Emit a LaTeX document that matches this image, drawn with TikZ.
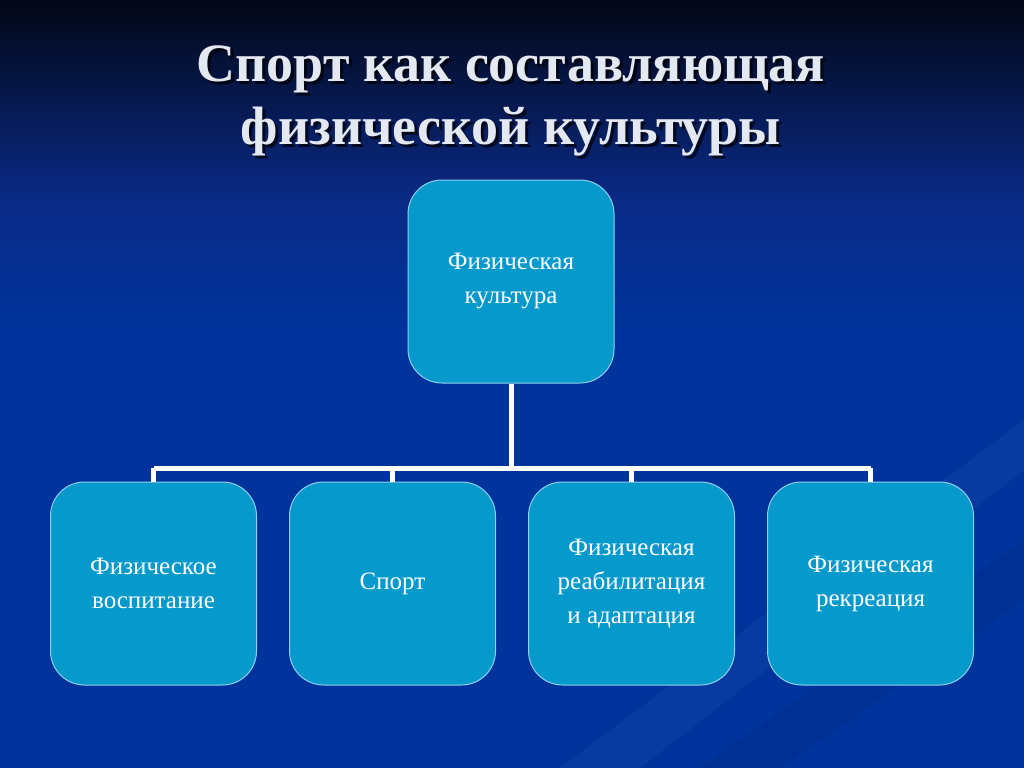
\documentclass[tikz,border=0pt]{standalone}
\usepackage{fontspec}
\setmainfont{Liberation Serif}
\usetikzlibrary{positioning}
\definecolor{bgtop}{HTML}{020716}
\definecolor{bgmid}{HTML}{0A2A86}
\definecolor{bgblue}{HTML}{00339C}
\definecolor{boxfill}{HTML}{0699CC}
\definecolor{boxline}{HTML}{8FD0F0}
\definecolor{titlecol}{HTML}{E4E8F0}
\tikzset{
  x=1pt, y=-1pt,
  box/.style={draw=boxline, line width=1pt, fill=boxfill, rounded corners=34pt,
    minimum width=206pt, minimum height=203pt, align=center, text=white,
    font=\fontsize{25}{34}\selectfont, inner sep=0pt},
  conn/.style={draw=white, line width=5pt},
  ttl/.style={font=\bfseries\fontsize{54}{63}\selectfont, align=center}
}
\begin{document}
\begin{tikzpicture}
\useasboundingbox (0,0) rectangle (1024,768);
% background
\fill[bgblue] (0,0) rectangle (1024,768);
\shade[top color=bgtop, bottom color=bgmid] (0,0) rectangle (1024,200);
\shade[top color=bgmid, bottom color=bgblue] (0,200) rectangle (1024,330);
% faint diagonal streaks
\fill[white, opacity=0.035] (560,768) -- (1024,420) -- (1024,470) -- (640,768) -- cycle;
\fill[black, opacity=0.05] (700,768) -- (1024,540) -- (1024,600) -- (780,768) -- cycle;
% title
\node[ttl, text=black, opacity=0.7] at (514,104) {Спорт как составляющая\\физической культуры};
\node[ttl, text=titlecol] (title) at (511,101) {Спорт как составляющая\\физической культуры};
% boxes
\node[box] (root) at (511,281.5) {Физическая\\культура};
\node[box] (c1) at (153.5,583.5) {Физическое\\воспитание};
\node[box] (c2) at (392.5,583.5) {Спорт};
\node[box] (c3) at (631.5,583.5) {Физическая\\реабилитация\\и адаптация};
\node[box] (c4) at (870.5,583.5) {Физическая\\рекреация};
% connectors
\coordinate (bus) at (0,468);
\draw[conn] (root.south) -- (root.south |- bus);
\draw[conn] (c1.north |- bus) -- (c4.north |- bus);
\draw[conn] (c1.north |- bus) -- (c1.north);
\draw[conn] (c2.north |- bus) -- (c2.north);
\draw[conn] (c3.north |- bus) -- (c3.north);
\draw[conn] (c4.north |- bus) -- (c4.north);
\end{tikzpicture}
\end{document}
